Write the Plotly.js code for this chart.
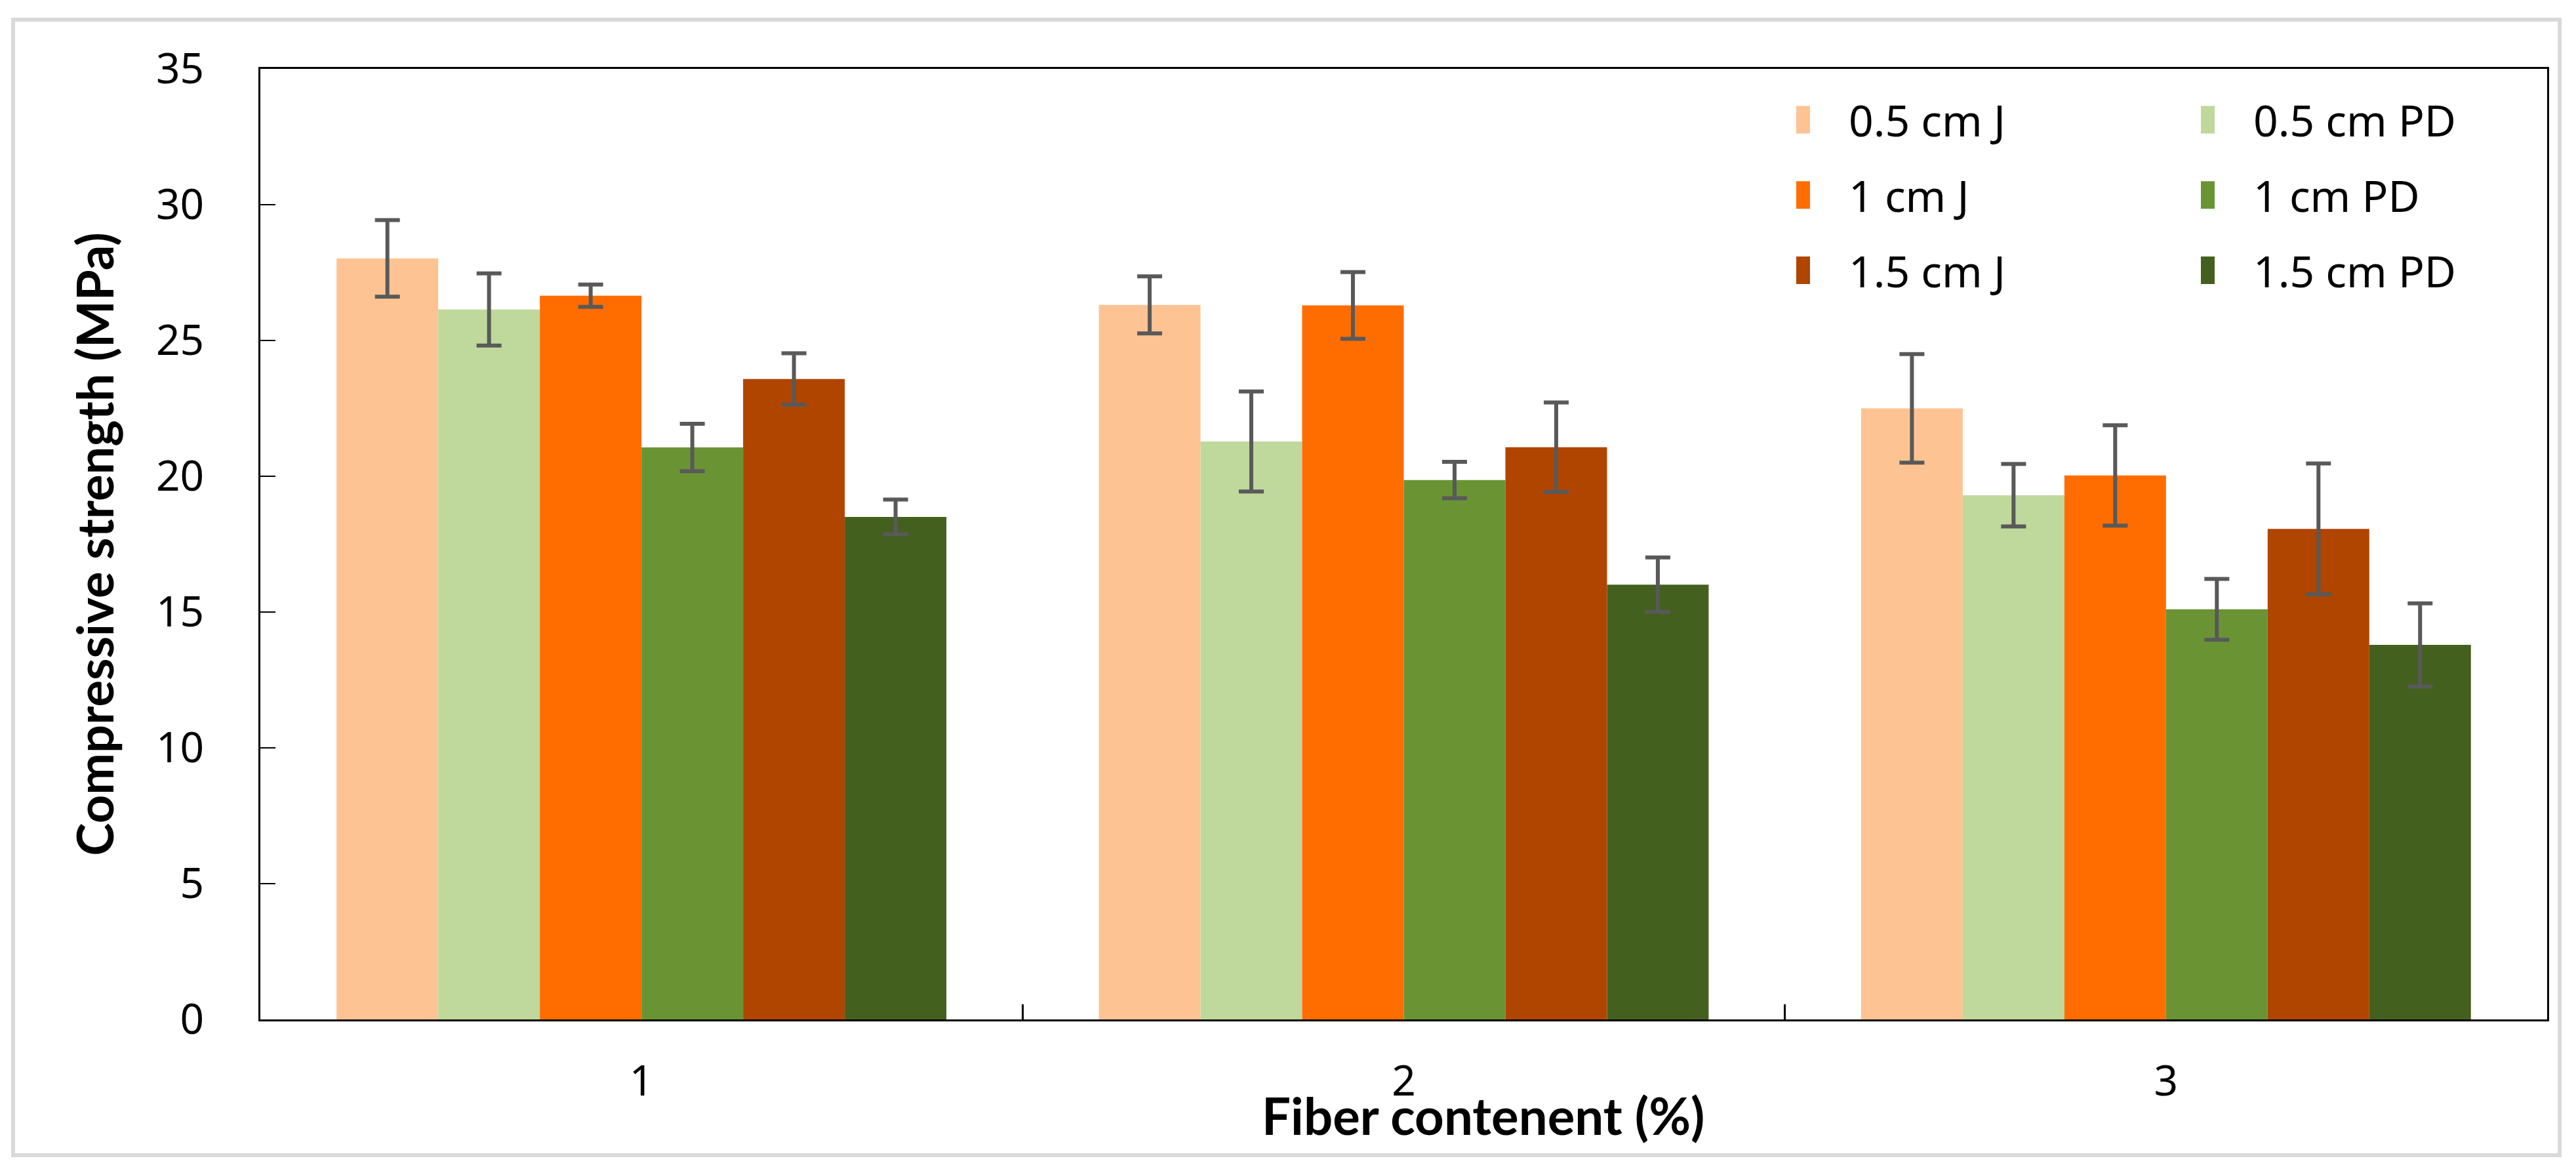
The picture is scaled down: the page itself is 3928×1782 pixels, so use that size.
<!DOCTYPE html>
<html>
<head>
<meta charset="utf-8">
<script src="https://cdn.plot.ly/plotly-3.0.1.min.js"></script>
<style>
  html, body { margin: 0; padding: 0; background: #ffffff; }
  #chart { width: 3928px; height: 1782px; }
</style>
</head>
<body>
<div id="chart"></div>
<script>
// Categories (fiber content, %)
const categories = ["1", "2", "3"];

// Series names
const seriesNames = ["0.5 cm J", "0.5 cm PD", "1 cm J", "1 cm PD", "1.5 cm J", "1.5 cm PD"];

// Mean compressive strength (MPa)
const j05  = [28.02, 26.31, 22.50];
const pd05 = [26.14, 21.28, 19.30];
const j1   = [26.65, 26.29, 20.03];
const pd1  = [21.06, 19.86, 15.10];
const j15  = [23.58, 21.07, 18.06];
const pd15 = [18.50, 16.01, 13.79];

// Error (± MPa)
const j05Err  = [1.41, 1.05, 2.00];
const pd05Err = [1.33, 1.84, 1.15];
const j1Err   = [0.41, 1.23, 1.85];
const pd1Err  = [0.87, 0.67, 1.12];
const j15Err  = [0.95, 1.65, 2.41];
const pd15Err = [0.64, 1.00, 1.53];

// Y tick values
const yTicks = [0, 5, 10, 15, 20, 25, 30, 35];

const values = [j05, pd05, j1, pd1, j15, pd15];
const errors = [j05Err, pd05Err, j1Err, pd1Err, j15Err, pd15Err];
const colors = ["#FEC393", "#BFD89B", "#FF6D00", "#6A9434", "#B04500", "#44601F"];
const legendIds = ["legend", "legend2", "legend", "legend2", "legend", "legend2"];

const traces = values.map((v, i) => ({
  type: "bar",
  name: seriesNames[i],
  x: categories,
  y: v,
  marker: { color: colors[i], line: { width: 0 } },
  error_y: { type: "data", array: errors[i], visible: true, color: "#595959", thickness: 6, width: 19 },
  legend: legendIds[i],
  legendgroup: "g" + i,
  hoverinfo: "skip"
}));

const W = 3928, H = 1782;
const L = 397, R = 44, T = 105, B = 228;
const pw = W - L - R, ph = H - T - B;
const px = v => (v - L) / pw;
const py = v => (H - B - v) / ph;

const legendCommon = {
  orientation: "v",
  bgcolor: "rgba(0,0,0,0)",
  borderwidth: 0,
  font: { family: "Noto Sans", size: 66, color: "#000000" },
  itemwidth: 70,
  tracegroupgap: 26,
  xanchor: "left",
  yanchor: "top",
  itemclick: false,
  itemdoubleclick: false
};

const layout = {
  width: W,
  height: H,
  margin: { l: L, r: R, t: T, b: B, pad: 0 },
  paper_bgcolor: "#ffffff",
  plot_bgcolor: "#ffffff",
  font: { family: "Noto Sans", size: 64, color: "#000000" },
  barmode: "group",
  bargap: 0.2,
  bargroupgap: 0,
  showlegend: true,
  legend: Object.assign({}, legendCommon, { x: px(2739), y: py(133) }),
  legend2: Object.assign({}, legendCommon, { x: px(3356), y: py(133) }),
  xaxis: {
    type: "category",
    showline: true,
    linecolor: "#000000",
    linewidth: 3,
    mirror: true,
    ticks: "inside",
    tickson: "boundaries",
    ticklen: 23,
    tickwidth: 2.5,
    tickcolor: "#000000",
    showgrid: false,
    zeroline: false,
    ticklabelstandoff: 36,
    tickfont: { family: "Noto Sans", size: 64, color: "#000000" }
  },
  yaxis: {
    range: [0, 35],
    tickvals: yTicks,
    ticktext: yTicks.map(String),
    showline: true,
    linecolor: "#000000",
    linewidth: 3,
    mirror: true,
    ticks: "inside",
    ticklen: 23,
    tickwidth: 2.5,
    tickcolor: "#000000",
    showgrid: false,
    zeroline: false,
    ticklabelstandoff: 70,
    tickfont: { family: "Noto Sans", size: 64, color: "#000000" },
    title: {
      text: "Compressive strength (MPa)",
      font: { family: "Lato", size: 76, color: "#000000", weight: "bold" },
      standoff: 40
    }
  },
  annotations: [{
    text: "<b>Fiber contenent (%)</b>",
    xref: "paper", yref: "paper",
    x: px(2262), y: py(1700),
    xanchor: "center", yanchor: "middle",
    showarrow: false,
    font: { family: "Lato", size: 78, color: "#000000" }
  }],
  shapes: [{
    type: "rect",
    xref: "paper", yref: "paper",
    x0: px(20), x1: px(3903),
    y0: py(1761), y1: py(30),
    line: { color: "#D9D9D9", width: 6 },
    fillcolor: "rgba(0,0,0,0)",
    layer: "below"
  }]
};

Plotly.newPlot("chart", traces, layout, { displayModeBar: false, staticPlot: true }).then(gd => {
  gd.querySelectorAll(".legendpoints path").forEach(p => {
    p.setAttribute("transform", "scale(3.5)");
  });
});
</script>
</body>
</html>
